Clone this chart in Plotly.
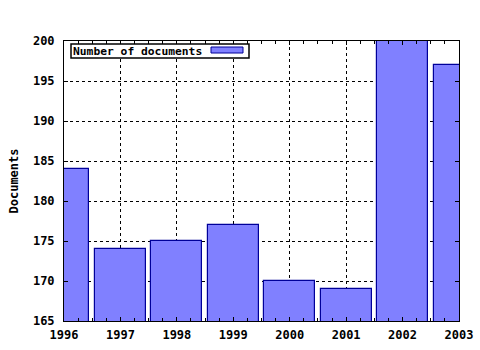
import plotly.graph_objects as go

years = [1996, 1997, 1998, 1999, 2000, 2001, 2002, 2003]
documents = [184, 174, 175, 177, 170, 169, 200, 197]
series_name = "Number of documents"
y_title = "Documents"

FONT = "DejaVu Sans Mono"
fig = go.Figure()
fig.add_trace(go.Bar(
    x=years, y=documents, name=series_name, width=0.9,
    marker=dict(color="#8080ff", line=dict(color="#000099", width=1.2)),
    showlegend=False,
))

# legend box (text with swatch on the right)
fig.add_shape(type="rect", xref="paper", yref="paper",
              x0=(71 - 64) / 395, x1=(249 - 64) / 395,
              y0=(321 - 58) / 280, y1=(321 - 44) / 280,
              line=dict(color="black", width=1.5), fillcolor="white", layer="above")
fig.add_shape(type="rect", xref="paper", yref="paper",
              x0=(211 - 64) / 395, x1=(243 - 64) / 395,
              y0=(321 - 53) / 280, y1=(321 - 47) / 280,
              line=dict(color="#000099", width=1), fillcolor="#8080ff", layer="above")
fig.add_annotation(xref="paper", yref="paper", x=(71 - 64) / 395, y=(321 - 51) / 280,
                   xanchor="left", yanchor="middle", text=series_name, showarrow=False,
                   font=dict(family=FONT, size=11.3, color="black", weight="bold"))

axis_common = dict(
    showline=True, linecolor="black", linewidth=1, mirror="allticks",
    ticks="inside", ticklen=4, tickcolor="black",
    showgrid=True, gridcolor="black", griddash="dot", gridwidth=1,
    zeroline=False, automargin=False,
    tickfont=dict(family=FONT, size=12, color="black", weight="bold"),
)
fig.update_xaxes(range=[1996, 2003], tickmode="array", tickvals=years,
                 ticktext=[str(y) for y in years], ticklabelstandoff=3,
                 minor=dict(ticks="inside", ticklen=3, dtick=0.25, tick0=1996,
                            tickcolor="black", showgrid=False),
                 **axis_common)
fig.update_yaxes(range=[165, 200], dtick=5, tick0=165, ticklabelstandoff=6,
                 title=dict(text=y_title, standoff=11,
                            font=dict(family=FONT, size=12, color="black", weight="bold")),
                 **axis_common)
fig.update_layout(
    width=480, height=350,
    margin=dict(l=64, r=21, t=41, b=29, autoexpand=False),
    paper_bgcolor="white", plot_bgcolor="white",
    bargap=0,
)
fig.write_html("out.html")
